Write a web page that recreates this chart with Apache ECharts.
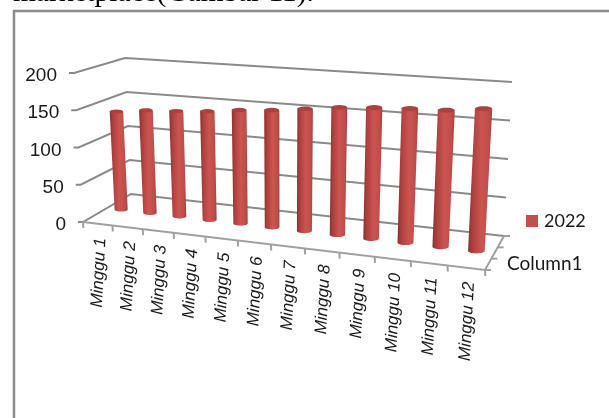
<!DOCTYPE html>
<html>
<head>
<meta charset="utf-8">
<style>html,body{margin:0;padding:0;background:#fff}#chart{width:609px;height:418px}</style>
<script src="https://cdn.jsdelivr.net/npm/echarts@6/dist/echarts.min.js"></script>
</head>
<body>
<div id="chart"></div>
<script>
// Weekly figures for 2022
const categories = ['Minggu 1','Minggu 2','Minggu 3','Minggu 4','Minggu 5','Minggu 6','Minggu 7','Minggu 8','Minggu 9','Minggu 10','Minggu 11','Minggu 12'];
const values2022 = [137,142,144,147,152,155,160,165,168,170,171,176];
const valueTicks = [0,50,100,150,200];
const depthTicks = [0,1/3,2/3,1];
const seriesName = '2022';
const depthName = 'Column1';
const captionText = 'marketplace(Gambar 11).';

// Screen positions of the corners of the chart's 3D box
const box = {
  floorFL:[83,222], floorFR:[485,270], floorBL:[131,194], floorBR:[504,236],
  roofFL:[74,73],   roofFR:[495,99],   roofBL:[125,58],   roofBR:[512,82]
};
const PERSPECTIVE = 0.13;
const mix = (a,b,t) => [a[0]+(b[0]-a[0])*t, a[1]+(b[1]-a[1])*t];

// u: along categories, v: up the value axis, w: front to back (all 0..1)
function project(u,v,w){
  const s = u*((1-PERSPECTIVE)+PERSPECTIVE*u);
  const f0 = mix(box.floorFL,box.floorFR,s), f1 = mix(box.floorBL,box.floorBR,s);
  const r0 = mix(box.roofFL,box.roofFR,s),  r1 = mix(box.roofBL,box.roofBR,s);
  return mix(mix(f0,f1,w),mix(r0,r1,w),v);
}
// Normalised plot position of a data point, taken from the cartesian scales
function norm(params,api,x,y){
  const p = api.coord([x,y]), c = params.coordSys;
  return [(p[0]-c.x)/c.width,(c.y+c.height-p[1])/c.height];
}
const GRID = '#8a8a8a', AXIS = '#a0a0a0', INK = '#1a1a1a';
const lineStyle = (color,w) => ({stroke:color,lineWidth:w,fill:null});

function renderWall(params,api){
  const [,v] = norm(params,api,0,api.value(1));
  const a = project(0,v,0), b = project(0,v,1), c = project(1,v,1);
  return {type:'group',children:[
    {type:'polyline',shape:{points:[[a[0]-5,a[1]],a,b,c]},style:lineStyle(GRID,2)},
    {type:'text',x:a[0]-17,y:a[1]+3,style:{text:String(api.value(1)),font:'19px "Liberation Sans"',fill:INK,textAlign:'right',textVerticalAlign:'middle'}}
  ]};
}

function renderCategoryAxis(params,api){
  const i = api.value(0), half = 0.5/categories.length;
  const [u] = norm(params,api,i,0);
  const kids = [];
  const mark = t => { const p = project(t,0,0); kids.push({type:'line',shape:{x1:p[0],y1:p[1],x2:p[0]+0.3,y2:p[1]+6},style:lineStyle(AXIS,2)}); };
  mark(u-half);
  if(i===categories.length-1) mark(u+half);
  const base = project(u,0,0);
  kids.push({type:'text',x:base[0]+3,y:base[1]+14,rotation:87*Math.PI/180,
    style:{text:categories[i],font:'italic 17px "Liberation Sans"',fill:INK,textAlign:'right',textVerticalAlign:'middle'}});
  return {type:'group',children:kids};
}

function renderFloorEdges(params,api){
  const w = api.value(0);
  const p = project(1,0,w);
  return {type:'line',shape:{x1:p[0],y1:p[1],x2:p[0]+6,y2:p[1]},style:lineStyle(AXIS,2)};
}

function renderCylinder(params,api){
  const i = api.value(0), val = api.value(1);
  const [u,v] = norm(params,api,i,val);
  const du = 0.23/categories.length;
  const tl = project(u-du,v,0.5), tr = project(u+du,v,0.5);
  const bl = project(u-du,0,0.5), br = project(u+du,0,0.5);
  const arc = (l,r,from,to) => {
    const cx=(l[0]+r[0])/2, cy=(l[1]+r[1])/2, rx=(r[0]-l[0])/2, ry=rx*0.3, pts=[];
    for(let k=0;k<=16;k++){const t=from+(to-from)*k/16;pts.push([cx+rx*Math.cos(t),cy+ry*Math.sin(t)]);}
    return pts;
  };
  const body = [tl,tr].concat(arc(bl,br,0,Math.PI));
  const grad = new echarts.graphic.LinearGradient(0,0,1,0,[
    {offset:0,color:'#8b3331'},{offset:0.22,color:'#b04240'},{offset:0.55,color:'#cc5451'},
    {offset:0.85,color:'#c04d4a'},{offset:1,color:'#a5403e'}]);
  return {type:'group',children:[
    {type:'polygon',shape:{points:body},style:{fill:grad}},
    {type:'polygon',shape:{points:arc(tl,tr,0,Math.PI*2)},style:{fill:'#ab423f'}}
  ]};
}

const chart = echarts.init(document.getElementById('chart'),null,{renderer:'canvas'});
chart.setOption({
  animation:false,
  backgroundColor:'#fff',
  grid:{left:83,top:73,width:402,height:149},
  xAxis:{type:'category',data:categories,show:false},
  yAxis:{type:'value',min:0,max:200,interval:50,show:false},
  legend:{data:[seriesName],left:526,top:212,padding:0,itemWidth:12,itemHeight:12,itemGap:0,icon:'rect',
    textStyle:{fontFamily:'Lato',fontSize:18,color:INK,padding:[0,0,0,1]}},
  graphic:[
    {type:'text',left:13,top:-21,style:{text:captionText,font:'29.4px "Liberation Serif"',fill:'#000'}},
    {type:'rect',shape:{x:14,y:11,width:700,height:520},style:{fill:null,stroke:'#8c8c8c',lineWidth:2.5},z:-1},
    {type:'text',left:507,top:254,style:{text:depthName,font:'19px Lato',fill:INK}}
  ],
  series:[
    {name:'walls',type:'custom',coordinateSystem:'cartesian2d',renderItem:renderWall,silent:true,
      data:valueTicks.map(t=>[0,t]),z:2},
    {name:'floor',type:'custom',coordinateSystem:'cartesian2d',silent:true,z:2,
      renderItem:(params,api)=>{
        const a=project(0,0,0),b=project(1,0,0),c=project(1,0,1);
        return {type:'polyline',shape:{points:[a,b,c]},style:lineStyle(AXIS,2)};
      },data:[[0,0]]},
    {name:'depth',type:'custom',coordinateSystem:'cartesian2d',silent:true,z:2,
      renderItem:renderFloorEdges,data:depthTicks.map(t=>[t,0]),encode:{x:-1,y:-1}},
    {name:'categories',type:'custom',coordinateSystem:'cartesian2d',silent:true,z:2,
      renderItem:renderCategoryAxis,data:categories.map((c,i)=>[i,0])},
    {name:seriesName,type:'custom',coordinateSystem:'cartesian2d',renderItem:renderCylinder,z:3,
      itemStyle:{color:'#c0504d'},data:values2022.map((v,i)=>[i,v])}
  ]
});
</script>
</body>
</html>
